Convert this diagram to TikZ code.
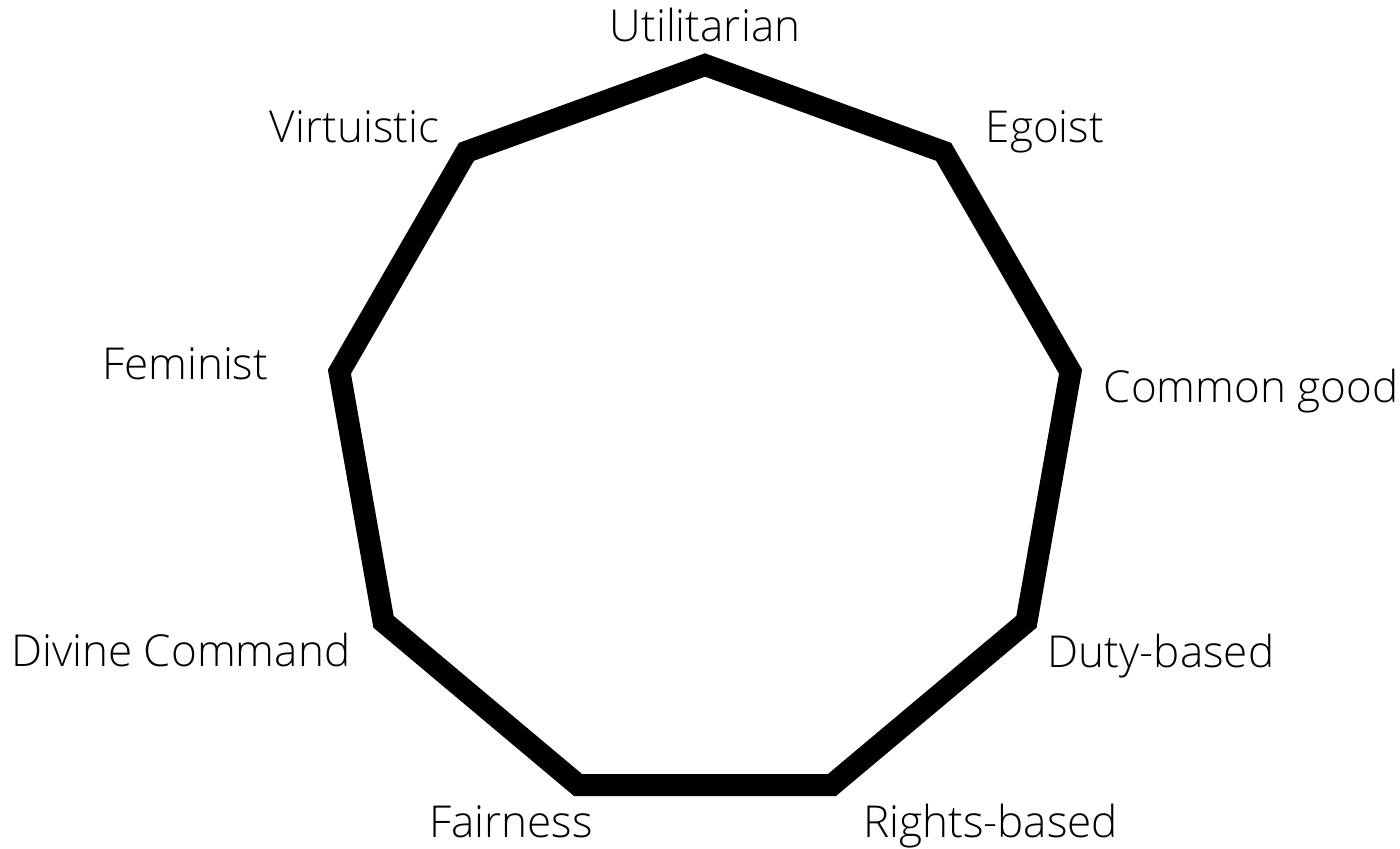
\documentclass[tikz,border=0pt]{standalone}
\usepackage{fontspec}
\setmainfont{Open Sans}[UprightFont=* Light]
\usepackage{tikz}
\usetikzlibrary{positioning,calc}
\tikzset{ring/.style={draw=black,line width=16.5pt,line join=miter},
  theory/.style={inner sep=0pt,font=\fontsize{33}{38}\selectfont}}

\begin{document}
\begin{tikzpicture}[x=0.75pt,y=0.75pt]
  \useasboundingbox (0,0) rectangle (1400,849);
  % corners of the nonagon
  \coordinate (c) at (705,412.8);
  \foreach \i in {0,...,8}
    \coordinate (v\i) at ($(c)+(90-40*\i:371.2)$);
  \draw[ring] (v0)--(v1)--(v2)--(v3)--(v4)--(v5)--(v6)--(v7)--(v8)--cycle;
  % theory names
  \foreach \i/\txt/\anc/\dx/\dy in {0/Utilitarian/base/0/23,1/Egoist/base west/42/9,
      2/Common good/base west/33/-31,3/Duty-based/base west/21/-46,
      4/Rights-based/base west/31/-52,5/Fairness/base east/15/-52,
      6/Divine Command/base east/-33/-45,7/Feminist/base east/-71/-8,
      8/Virtuistic/base east/-27/9}
    \node[theory,anchor=\anc] (t\i) at ($(v\i)+(\dx,\dy)$) {\txt};
\end{tikzpicture}
\end{document}
